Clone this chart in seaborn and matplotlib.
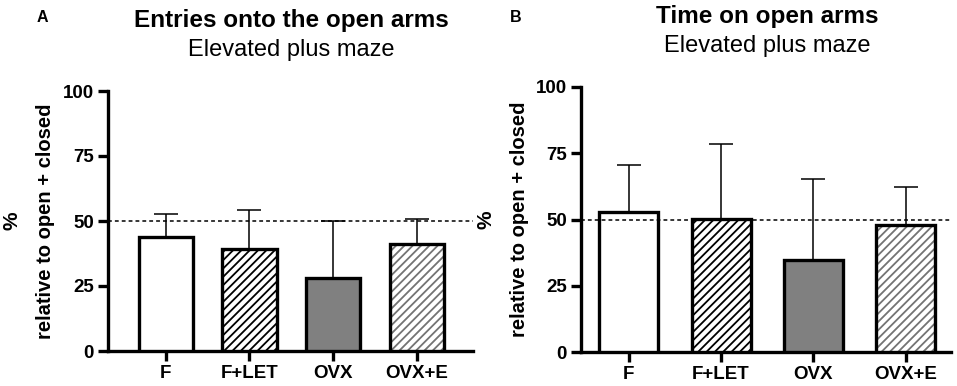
import numpy as np
import pandas as pd
import matplotlib
matplotlib.use("Agg")
import matplotlib.pyplot as plt
from matplotlib.patches import Rectangle
import seaborn as sns

groups = ["F", "F+LET", "OVX", "OVX+E"]
entries_mean = [43.8, 39.1, 28.0, 41.0]
entries_err = [9.0, 15.2, 21.9, 9.6]
time_mean = [52.9, 50.2, 34.7, 47.8]
time_err = [17.6, 28.2, 30.4, 14.6]
titles = ["Entries onto the open arms", "Time on open arms"]
subtitle = "Elevated plus maze"
panel_letters = ["A", "B"]
yticks = [0, 25, 50, 75, 100]

face_colors = ["white", "white", "#808080", "white"]
hatch_colors = ["black", "black", "#808080", "#737373"]
hatches = [None, "////", None, "////"]

sns.set_theme(style="white")
plt.rcParams["font.family"] = ["Liberation Sans", "DejaVu Sans"]
plt.rcParams["hatch.linewidth"] = 1.3
plt.rcParams["text.color"] = "black"
plt.rcParams["xtick.color"] = "black"
plt.rcParams["ytick.color"] = "black"
plt.rcParams["xtick.labelcolor"] = "black"
plt.rcParams["ytick.labelcolor"] = "black"

fig = plt.figure(figsize=(9.57, 3.86), dpi=100)

specs = [
    dict(rect=[108/957, 1-351/386, 365/957, 260/386], xlim=(-0.69, 3.67), width=0.65,
         ylab=(-0.263, -0.172), title_x=291/957, letter_x=42/957, title_y=1-20/386, sub_y=1-50/386,
         letter_y=1-18/386),
    dict(rect=[581/957, 1-352.3/386, 370/957, 265.6/386], xlim=(-0.517, 3.49), width=0.64,
         ylab=(-0.257, -0.165), title_x=767/957, letter_x=516/957, title_y=1-16/386, sub_y=1-46/386,
         letter_y=1-18/386),
]
datasets = [(entries_mean, entries_err), (time_mean, time_err)]

for i, (spec, (means, errs)) in enumerate(zip(specs, datasets)):
    ax = fig.add_axes(spec["rect"])
    df = pd.DataFrame({"group": groups, "value": means})
    sns.barplot(data=df, x="group", y="value", hue="group", palette=face_colors,
                legend=False, width=spec["width"], errorbar=None, ax=ax,
                linewidth=0, zorder=3)
    pos = np.arange(len(groups))
    ax.errorbar(pos, means, yerr=[np.zeros(len(errs)), errs], fmt="none",
                ecolor="black", elinewidth=1.1, capsize=8.5, capthick=1.1, zorder=2)
    for j, p in enumerate(ax.patches):
        p.set_facecolor(face_colors[j])
        p.set_edgecolor(hatch_colors[j])
        p.set_linewidth(0)
        if hatches[j]:
            p.set_hatch(hatches[j])
        outline = Rectangle((p.get_x(), p.get_y()), p.get_width(), p.get_height(),
                            fill=False, edgecolor="black", linewidth=2.4, zorder=4)
        ax.add_patch(outline)
    ax.axhline(50, color="black", linestyle=(0, (2.5, 2)), linewidth=1.1, zorder=5,
               clip_on=False)
    ax.set_xlim(*spec["xlim"])
    ax.set_ylim(0, 100)
    ax.set_yticks(yticks)
    ax.set_xticks(pos)
    ax.set_xticklabels(groups)
    ax.set_xlabel("")
    ax.set_ylabel("")
    for s in ["top", "right"]:
        ax.spines[s].set_visible(False)
    for s in ["left", "bottom"]:
        ax.spines[s].set_linewidth(2.4)
        ax.spines[s].set_color("black")
    ax.spines["left"].set_bounds(0, 100)
    ax.tick_params(axis="both", direction="out", length=7, width=2.4, color="black",
                   labelcolor="black", labelsize=13.5, pad=3, bottom=True, left=True)
    for lab in ax.get_xticklabels() + ax.get_yticklabels():
        lab.set_fontweight("bold")
    ax.text(spec["ylab"][0], 0.5, "%", transform=ax.transAxes, rotation=90,
            ha="center", va="center", fontsize=15, fontweight="bold", color="black")
    ax.text(spec["ylab"][1], 0.5, "relative to open + closed", transform=ax.transAxes,
            rotation=90, ha="center", va="center", fontsize=14.5, fontweight="bold",
            color="black")
    fig.text(spec["title_x"], spec["title_y"], titles[i], ha="center", va="center",
             fontsize=17.5, fontweight="bold", color="black")
    fig.text(spec["title_x"], spec["sub_y"], subtitle, ha="center", va="center",
             fontsize=17, color="black")
    fig.text(spec["letter_x"], spec["letter_y"], panel_letters[i], ha="center", va="center",
             fontsize=11.5, fontweight="bold", color="black")

fig.savefig("out.png", dpi=100)
